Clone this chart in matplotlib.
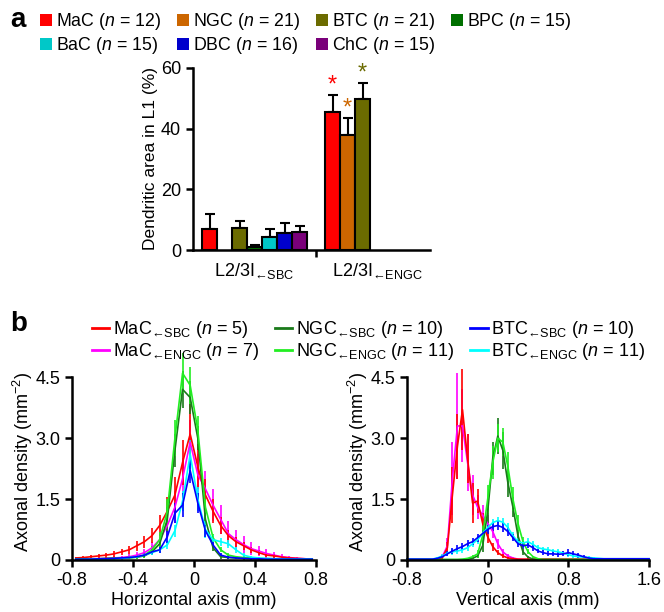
import numpy as np
import matplotlib
matplotlib.use("Agg")
import matplotlib.pyplot as plt
from matplotlib.patches import Patch
from matplotlib.lines import Line2D

plt.rcParams['font.family'] = ['Liberation Sans', 'DejaVu Sans']
plt.rcParams['mathtext.fontset'] = 'custom'
plt.rcParams['mathtext.rm'] = 'Liberation Sans'
plt.rcParams['mathtext.it'] = 'Liberation Sans:italic'
plt.rcParams['mathtext.bf'] = 'Liberation Sans:bold'
plt.rcParams['axes.unicode_minus'] = False
plt.rcParams['font.size'] = 11

# ---- panel a data ----
cell_types = ["MaC", "NGC", "BTC", "BPC", "BaC", "DBC", "ChC"]
cell_n = [12, 21, 21, 15, 15, 16, 15]
cell_colors = ["#ff0000", "#cc6600", "#6b6b00", "#007000", "#00c8c8", "#0000cc", "#7a007a"]
sbc_mean = [6.8, np.nan, 7.2, 1.0, 4.3, 5.5, 6.0]
sbc_err = [5.0, np.nan, 2.3, 0.5, 2.5, 3.5, 2.0]
engc_mean = [45.5, 38.0, 49.8, np.nan, np.nan, np.nan, np.nan]
engc_err = [5.5, 5.5, 5.3, np.nan, np.nan, np.nan, np.nan]
group_labels = ["L2/3I$_{\\mathrm{←SBC}}$", "L2/3I$_{\\mathrm{←ENGC}}$"]
legend_order_a = [0, 4, 1, 5, 2, 6, 3]   # column-major fill -> two rows as in figure

# ---- panel b data ----
series_names = ["MaC$_{\\mathrm{←SBC}}$ ($n$ = 5)", "MaC$_{\\mathrm{←ENGC}}$ ($n$ = 7)",
                "NGC$_{\\mathrm{←SBC}}$ ($n$ = 10)", "NGC$_{\\mathrm{←ENGC}}$ ($n$ = 11)",
                "BTC$_{\\mathrm{←SBC}}$ ($n$ = 10)", "BTC$_{\\mathrm{←ENGC}}$ ($n$ = 11)"]
series_colors = ["#ff0000", "#ff00ff", "#1a7a1a", "#22ee22", "#0000ff", "#00ffff"]

h_x = np.round(np.arange(-0.775, 0.8, 0.05), 3)
h_vals = [
    [0.05, 0.06, 0.08, 0.10, 0.12, 0.15, 0.20, 0.25, 0.35, 0.45, 0.60, 0.85, 1.20, 1.60, 2.40, 3.10,
     2.30, 1.60, 1.20, 0.85, 0.60, 0.45, 0.35, 0.25, 0.18, 0.12, 0.10, 0.07, 0.05, 0.04, 0.03, 0.02],
    [0.02, 0.02, 0.03, 0.03, 0.04, 0.05, 0.06, 0.08, 0.12, 0.18, 0.30, 0.50, 0.85, 1.30, 2.00, 2.90,
     2.10, 1.75, 1.35, 1.00, 0.65, 0.50, 0.38, 0.28, 0.22, 0.16, 0.12, 0.08, 0.06, 0.04, 0.03, 0.02],
    [0.03, 0.03, 0.03, 0.03, 0.04, 0.04, 0.05, 0.06, 0.07, 0.10, 0.20, 0.40, 1.00, 2.70, 4.20, 4.00,
     3.00, 1.00, 0.30, 0.08, 0.06, 0.05, 0.04, 0.04, 0.03, 0.03, 0.03, 0.02, 0.02, 0.02, 0.02, 0.02],
    [0.02, 0.02, 0.02, 0.03, 0.03, 0.04, 0.04, 0.05, 0.07, 0.12, 0.25, 0.50, 1.20, 3.00, 4.60, 4.30,
     3.20, 1.30, 0.55, 0.25, 0.12, 0.08, 0.06, 0.05, 0.04, 0.03, 0.03, 0.02, 0.02, 0.02, 0.02, 0.02],
    [0.02, 0.02, 0.02, 0.03, 0.03, 0.04, 0.05, 0.06, 0.08, 0.12, 0.20, 0.25, 0.57, 1.15, 1.35, 2.20,
     1.40, 0.72, 0.37, 0.12, 0.07, 0.05, 0.04, 0.03, 0.03, 0.02, 0.02, 0.02, 0.02, 0.02, 0.02, 0.02],
    [0.01, 0.01, 0.02, 0.02, 0.02, 0.03, 0.04, 0.06, 0.08, 0.12, 0.18, 0.25, 0.37, 0.72, 1.45, 2.60,
     1.50, 0.75, 0.50, 0.45, 0.40, 0.25, 0.12, 0.07, 0.05, 0.04, 0.03, 0.03, 0.02, 0.02, 0.02, 0.02],
]
h_errs = [
    [0.03, 0.04, 0.05, 0.05, 0.06, 0.07, 0.08, 0.10, 0.12, 0.15, 0.18, 0.25, 0.35, 0.45, 0.55, 0.75,
     0.55, 0.40, 0.30, 0.20, 0.15, 0.12, 0.10, 0.08, 0.06, 0.05, 0.04, 0.03, 0.03, 0.02, 0.02, 0.02],
    [0.02, 0.02, 0.02, 0.03, 0.03, 0.04, 0.05, 0.06, 0.08, 0.10, 0.15, 0.20, 0.30, 0.40, 0.50, 0.55,
     0.50, 0.45, 0.40, 0.35, 0.30, 0.25, 0.20, 0.16, 0.13, 0.10, 0.08, 0.06, 0.04, 0.03, 0.02, 0.02],
    [0.02, 0.02, 0.02, 0.02, 0.02, 0.03, 0.03, 0.03, 0.04, 0.05, 0.08, 0.15, 0.30, 0.40, 0.45, 0.40,
     0.30, 0.15, 0.08, 0.05, 0.04, 0.03, 0.03, 0.02, 0.02, 0.02, 0.02, 0.02, 0.02, 0.02, 0.02, 0.02],
    [0.02, 0.02, 0.02, 0.02, 0.02, 0.03, 0.03, 0.03, 0.04, 0.06, 0.10, 0.20, 0.30, 0.45, 0.50, 0.45,
     0.35, 0.20, 0.10, 0.06, 0.04, 0.03, 0.03, 0.02, 0.02, 0.02, 0.02, 0.02, 0.02, 0.02, 0.02, 0.02],
    [0.01, 0.01, 0.01, 0.02, 0.02, 0.02, 0.03, 0.03, 0.04, 0.05, 0.06, 0.08, 0.15, 0.25, 0.30, 0.30,
     0.25, 0.15, 0.08, 0.05, 0.04, 0.03, 0.02, 0.02, 0.02, 0.01, 0.01, 0.01, 0.01, 0.01, 0.01, 0.01],
    [0.01, 0.01, 0.01, 0.02, 0.02, 0.02, 0.03, 0.03, 0.04, 0.05, 0.06, 0.08, 0.10, 0.15, 0.25, 0.35,
     0.30, 0.20, 0.12, 0.10, 0.10, 0.08, 0.05, 0.04, 0.03, 0.02, 0.02, 0.02, 0.01, 0.01, 0.01, 0.01],
]

v_x = np.round(np.arange(-0.8, 1.625, 0.05), 3)
v_vals = [
    [0.02, 0.02, 0.02, 0.02, 0.02, 0.02, 0.02, 0.05, 0.30, 1.60,
     2.80, 3.70, 2.50, 1.40, 1.45, 0.90, 0.57, 0.33, 0.18, 0.10,
     0.05, 0.03, 0.02, 0.02, 0.02, 0.02, 0.02, 0.02, 0.02, 0.02,
     0.02, 0.02, 0.02, 0.02, 0.02, 0.02, 0.02, 0.02, 0.02, 0.02,
     0.02, 0.02, 0.02, 0.02, 0.02, 0.02, 0.02, 0.02, 0.02],
    [0.01, 0.01, 0.01, 0.01, 0.01, 0.01, 0.03, 0.08, 0.35, 2.00,
     3.30, 3.30, 2.40, 1.60, 1.30, 1.10, 0.90, 0.70, 0.40, 0.20,
     0.10, 0.05, 0.02, 0.01, 0.01, 0.01, 0.01, 0.01, 0.01, 0.01,
     0.01, 0.01, 0.01, 0.01, 0.01, 0.01, 0.01, 0.01, 0.01, 0.01,
     0.01, 0.01, 0.01, 0.01, 0.01, 0.01, 0.01, 0.01, 0.01],
    [0.01, 0.01, 0.01, 0.01, 0.01, 0.01, 0.01, 0.01, 0.01, 0.01,
     0.01, 0.01, 0.02, 0.04, 0.10, 0.35, 1.20, 2.50, 3.05, 2.70,
     1.90, 1.30, 0.60, 0.20, 0.07, 0.02, 0.01, 0.01, 0.01, 0.01,
     0.01, 0.01, 0.01, 0.01, 0.01, 0.01, 0.01, 0.01, 0.01, 0.01,
     0.01, 0.01, 0.01, 0.01, 0.01, 0.01, 0.01, 0.01, 0.01],
    [0.01, 0.01, 0.01, 0.01, 0.01, 0.01, 0.01, 0.01, 0.01, 0.01,
     0.01, 0.02, 0.04, 0.08, 0.15, 0.60, 1.50, 2.40, 3.00, 2.90,
     2.30, 1.50, 0.90, 0.45, 0.20, 0.08, 0.03, 0.01, 0.01, 0.01,
     0.01, 0.01, 0.01, 0.01, 0.01, 0.01, 0.01, 0.01, 0.01, 0.01,
     0.01, 0.01, 0.01, 0.01, 0.01, 0.01, 0.01, 0.01, 0.01],
    [0.02, 0.02, 0.02, 0.02, 0.02, 0.02, 0.04, 0.08, 0.15, 0.22,
     0.28, 0.33, 0.40, 0.45, 0.55, 0.65, 0.75, 0.82, 0.85, 0.80,
     0.70, 0.55, 0.40, 0.35, 0.37, 0.30, 0.22, 0.18, 0.15, 0.15,
     0.14, 0.15, 0.18, 0.15, 0.12, 0.08, 0.05, 0.03, 0.03, 0.03,
     0.03, 0.03, 0.03, 0.03, 0.03, 0.03, 0.03, 0.03, 0.03],
    [0.02, 0.02, 0.02, 0.02, 0.02, 0.02, 0.05, 0.10, 0.17, 0.20,
     0.22, 0.25, 0.30, 0.40, 0.50, 0.65, 0.80, 0.92, 0.97, 0.93,
     0.80, 0.60, 0.45, 0.42, 0.45, 0.38, 0.30, 0.27, 0.25, 0.22,
     0.20, 0.17, 0.13, 0.10, 0.08, 0.07, 0.06, 0.05, 0.04, 0.03,
     0.03, 0.03, 0.03, 0.03, 0.03, 0.03, 0.03, 0.03, 0.03],
]
v_errs = [
    [0.01, 0.01, 0.01, 0.01, 0.01, 0.01, 0.01, 0.03, 0.15, 0.70,
     0.80, 1.00, 0.60, 0.50, 0.30, 0.25, 0.15, 0.10, 0.06, 0.04,
     0.02, 0.01, 0.01, 0.01, 0.01, 0.01, 0.01, 0.01, 0.01, 0.01,
     0.01, 0.01, 0.01, 0.01, 0.01, 0.01, 0.01, 0.01, 0.01, 0.01,
     0.01, 0.01, 0.01, 0.01, 0.01, 0.01, 0.01, 0.01, 0.01],
    [0.01, 0.01, 0.01, 0.01, 0.01, 0.01, 0.02, 0.05, 0.20, 0.90,
     1.30, 0.90, 0.70, 0.50, 0.30, 0.25, 0.20, 0.15, 0.12, 0.08,
     0.05, 0.03, 0.01, 0.01, 0.01, 0.01, 0.01, 0.01, 0.01, 0.01,
     0.01, 0.01, 0.01, 0.01, 0.01, 0.01, 0.01, 0.01, 0.01, 0.01,
     0.01, 0.01, 0.01, 0.01, 0.01, 0.01, 0.01, 0.01, 0.01],
    [0.01, 0.01, 0.01, 0.01, 0.01, 0.01, 0.01, 0.01, 0.01, 0.01,
     0.01, 0.01, 0.01, 0.02, 0.05, 0.15, 0.30, 0.40, 0.45, 0.45,
     0.35, 0.25, 0.15, 0.08, 0.04, 0.01, 0.01, 0.01, 0.01, 0.01,
     0.01, 0.01, 0.01, 0.01, 0.01, 0.01, 0.01, 0.01, 0.01, 0.01,
     0.01, 0.01, 0.01, 0.01, 0.01, 0.01, 0.01, 0.01, 0.01],
    [0.01, 0.01, 0.01, 0.01, 0.01, 0.01, 0.01, 0.01, 0.01, 0.01,
     0.01, 0.01, 0.02, 0.05, 0.10, 0.25, 0.35, 0.40, 0.35, 0.35,
     0.35, 0.30, 0.20, 0.12, 0.06, 0.03, 0.01, 0.01, 0.01, 0.01,
     0.01, 0.01, 0.01, 0.01, 0.01, 0.01, 0.01, 0.01, 0.01, 0.01,
     0.01, 0.01, 0.01, 0.01, 0.01, 0.01, 0.01, 0.01, 0.01],
    [0.01, 0.01, 0.01, 0.01, 0.01, 0.01, 0.02, 0.04, 0.06, 0.08,
     0.08, 0.08, 0.08, 0.08, 0.10, 0.10, 0.10, 0.10, 0.10, 0.10,
     0.10, 0.08, 0.08, 0.08, 0.08, 0.08, 0.06, 0.06, 0.06, 0.06,
     0.06, 0.06, 0.08, 0.06, 0.06, 0.04, 0.02, 0.01, 0.01, 0.01,
     0.01, 0.01, 0.01, 0.01, 0.01, 0.01, 0.01, 0.01, 0.01],
    [0.01, 0.01, 0.01, 0.01, 0.01, 0.01, 0.03, 0.05, 0.06, 0.08,
     0.08, 0.08, 0.08, 0.08, 0.10, 0.10, 0.10, 0.10, 0.10, 0.10,
     0.10, 0.08, 0.08, 0.08, 0.08, 0.08, 0.06, 0.06, 0.06, 0.06,
     0.06, 0.05, 0.05, 0.04, 0.04, 0.03, 0.03, 0.02, 0.02, 0.01,
     0.01, 0.01, 0.01, 0.01, 0.01, 0.01, 0.01, 0.01, 0.01],
]
draw_order = [1, 0, 2, 3, 5, 4]


def style_axes(ax):
    for s in ["top", "right"]:
        ax.spines[s].set_visible(False)
    for s in ["left", "bottom"]:
        ax.spines[s].set_linewidth(1.8)
    ax.tick_params(width=1.8, length=5, direction="out", labelsize=13)


fig = plt.figure(figsize=(6.64, 6.12), dpi=100)

# ---------------- panel a ----------------
ax_a = fig.add_axes([0.2907, 0.5915, 0.357, 0.2974])
g2_off = 8.2
pos1 = np.arange(len(cell_types))
pos2 = pos1 + g2_off
for i in range(len(cell_types)):
    for pos, m, e in [(pos1[i], sbc_mean[i], sbc_err[i]), (pos2[i], engc_mean[i], engc_err[i])]:
        if np.isnan(m):
            continue
        ax_a.bar(pos, m, width=1.0, color=cell_colors[i], edgecolor="black", linewidth=1.5, zorder=2)
        ax_a.errorbar(pos, m, yerr=[[0], [e]], color="black", elinewidth=1.5,
                      capsize=3.5, capthick=1.5, zorder=1)
for i in range(3):
    ax_a.text(pos2[i], engc_mean[i] + engc_err[i] - 0.5, "*", color=cell_colors[i],
              ha="center", va="bottom", fontsize=17)
ax_a.set_xlim(-1.1, 14.7)
ax_a.set_ylim(0, 60)
ax_a.set_yticks([0, 20, 40, 60])
ax_a.set_xticks([7.1])
ax_a.set_xticklabels([""])
ax_a.set_xticks([3.0, 11.2], minor=True)
ax_a.set_xticklabels(group_labels, minor=True, fontsize=13)
ax_a.tick_params(axis="x", which="minor", length=0, pad=8)
style_axes(ax_a)
ax_a.set_ylabel("Dendritic area in L1 (%)", fontsize=12.5, labelpad=2)

handles_a = [Patch(facecolor=cell_colors[i], edgecolor="none") for i in legend_order_a]
labels_a = [f"{cell_types[i]} ($n$ = {cell_n[i]})" for i in legend_order_a]
fig.legend(handles_a, labels_a, ncol=4, loc="upper left", bbox_to_anchor=(0.05, 0.993),
           frameon=False, fontsize=12.8, handlelength=0.65, handleheight=0.65, handletextpad=0.25,
           columnspacing=0.9, labelspacing=0.15, borderaxespad=0)
fig.text(0.015, 0.968, "a", fontsize=20, fontweight="bold", va="center")

# ---------------- panel b ----------------
ax_h = fig.add_axes([0.1084, 0.085, 0.3675, 0.3186])
ax_v = fig.add_axes([0.613, 0.085, 0.3645, 0.3186])
for ax, xs, vals, errs in [(ax_h, h_x, h_vals, h_errs), (ax_v, v_x, v_vals, v_errs)]:
    for k in draw_order:
        ax.errorbar(xs, vals[k], yerr=errs[k], color=series_colors[k], linewidth=1.2,
                    elinewidth=1.2, capsize=0, clip_on=False)
    ax.set_ylim(0, 4.8)
    ax.spines["left"].set_bounds(0, 4.5)
    ax.set_yticks([0, 1.5, 3.0, 4.5])
    ax.set_yticklabels(["0", "1.5", "3.0", "4.5"])
    style_axes(ax)
    ax.set_ylabel("Axonal density (mm$^{-2}$)", fontsize=13, labelpad=0)

ax_h.set_xlim(-0.8, 0.8)
ax_h.set_xticks([-0.8, -0.4, 0, 0.4, 0.8])
ax_h.set_xticklabels(["-0.8", "-0.4", "0", "0.4", "0.8"])
ax_h.set_xlabel("Horizontal axis (mm)", fontsize=13, labelpad=2)
ax_v.set_xlim(-0.8, 1.6)
ax_v.set_xticks([-0.8, 0, 0.8, 1.6])
ax_v.set_xticklabels(["-0.8", "0", "0.8", "1.6"])
ax_v.set_xlabel("Vertical axis (mm)", fontsize=13, labelpad=2)

handles_b = [Line2D([0], [0], color=c, linewidth=2) for c in series_colors]
fig.legend(handles_b, series_names, ncol=3, loc="upper left", bbox_to_anchor=(0.128, 0.49),
           frameon=False, fontsize=13, handlelength=0.95, handletextpad=0.2,
           columnspacing=0.9, labelspacing=0.05, borderaxespad=0)
fig.text(0.015, 0.47, "b", fontsize=20, fontweight="bold", va="center")

fig.savefig("out.png", dpi=100)
